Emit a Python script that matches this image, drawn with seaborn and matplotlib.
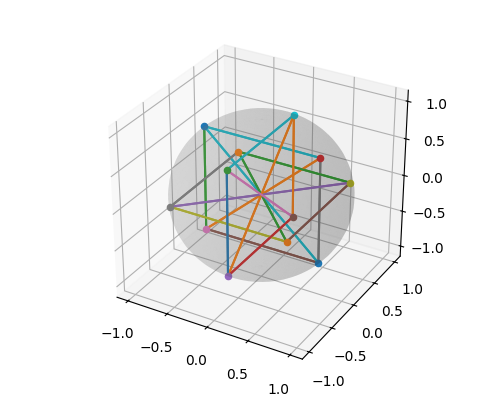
import numpy as np
import matplotlib
matplotlib.use("Agg")
import matplotlib.pyplot as plt
import seaborn as sns

# points, in the order of the colour cycle
xs = [-0.707, -0.707, 0, 0.707, 0, 0, -0.707, -0.707, 0.707, 0, 0.707, 0.707]
ys = [0, 0.707, -0.707, 0, -0.707, 0.707, 0, -0.707, 0.707, 0.707, 0, -0.707]
zs = [0.707, 0, 0.707, 0.707, -0.707, -0.707, -0.707, 0, 0, 0.707, -0.707, 0]

# lines: start point, end point, colour number
starts = [0, 0, 0, 6, 3, 3, 1, 1, 8, 7, 7, 1, 9, 9, 9, 2, 2, 4]
ends = [3, 10, 6, 10, 6, 10, 8, 11, 11, 11, 8, 7, 2, 5, 4, 4, 5, 5]
line_colors = [9, 9, 2, 5, 1, 7, 2, 2, 5, 8, 4, 7, 9, 1, 1, 0, 6, 3]

palette = sns.color_palette("tab10")

fig = plt.figure(figsize=(5, 4), dpi=100)
ax = fig.add_axes([0.127, 0.118, 0.775, 0.77], projection="3d")
ax.set_box_aspect((1, 1, 0.91), zoom=1.13)

# sphere
u = np.linspace(0, 2 * np.pi, 50)
v = np.linspace(0, np.pi, 50)
sx = np.outer(np.cos(u), np.sin(v))
sy = np.outer(np.sin(u), np.sin(v))
sz = np.outer(np.ones_like(u), np.cos(v))
ax.plot_surface(sx, sy, sz, color="gray", alpha=0.15, linewidth=0)

# every line goes in twice, once each way
for a, b, c in zip(starts + ends, ends + starts, line_colors + line_colors):
    ax.plot([xs[a], xs[b]], [ys[a], ys[b]], [zs[a], zs[b]], color=palette[c])

for i in range(len(xs)):
    ax.scatter(xs[i], ys[i], zs[i], color=palette[i % 10], depthshade=False)

ax.set_xticks([-1.0, -0.5, 0.0, 0.5, 1.0])
ax.set_yticks([-1.0, -0.5, 0.0, 0.5, 1.0])
ax.set_zticks([-1.0, -0.5, 0.0, 0.5, 1.0])
plt.savefig("out.png", dpi=100)
